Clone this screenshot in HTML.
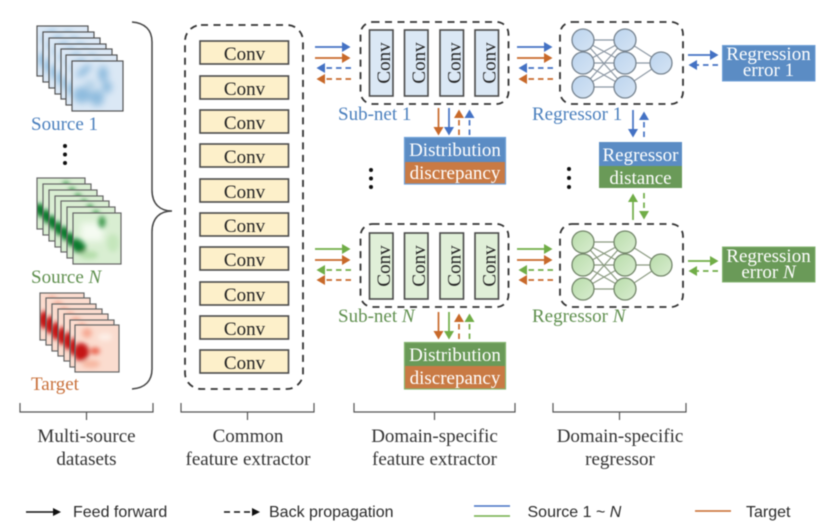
<!DOCTYPE html>
<html>
<head>
<meta charset="utf-8">
<style>
html,body{margin:0;padding:0;background:#fff;width:832px;height:526px;overflow:hidden}
svg{display:block;filter:blur(0.4px)}
text{font-family:"Liberation Serif",serif;font-size:19px;fill:#333}
.s{font-family:"Liberation Sans",sans-serif;font-size:16px;fill:#2a2a2a}
.w{fill:#fff;text-anchor:middle}
.m{text-anchor:middle}
.c{fill:#222;text-anchor:middle}
.dash{fill:none;stroke:#333;stroke-width:1.8;stroke-dasharray:7 5.5}
.f{stroke:#4a4a4a;stroke-width:1.6}
.sb{stroke:#4472c4;stroke-width:1.7;fill:none}
.so{stroke:#c8692a;stroke-width:1.7;fill:none}
.sg{stroke:#70ad47;stroke-width:1.7;fill:none}
.db{stroke-dasharray:5.5 4}
</style>
</head>
<body>
<svg width="832" height="526" viewBox="0 0 832 526" xmlns="http://www.w3.org/2000/svg">
<defs>
<marker id="mb" markerUnits="userSpaceOnUse" markerWidth="9" markerHeight="10" refX="0" refY="5" orient="auto"><path d="M0 0L8.5 5L0 10Z" fill="#4472c4"/></marker>
<marker id="mo" markerUnits="userSpaceOnUse" markerWidth="9" markerHeight="10" refX="0" refY="5" orient="auto"><path d="M0 0L8.5 5L0 10Z" fill="#c8692a"/></marker>
<marker id="mg" markerUnits="userSpaceOnUse" markerWidth="9" markerHeight="10" refX="0" refY="5" orient="auto"><path d="M0 0L8.5 5L0 10Z" fill="#70ad47"/></marker>
<marker id="mk" markerUnits="userSpaceOnUse" markerWidth="9" markerHeight="10" refX="0" refY="4" orient="auto"><path d="M0 0L8 4L0 8Z" fill="#111"/></marker>
<filter id="b3" x="-50%" y="-50%" width="200%" height="200%"><feGaussianBlur stdDeviation="3.500"/></filter>
<filter id="b2" x="-50%" y="-50%" width="200%" height="200%"><feGaussianBlur stdDeviation="2.500"/></filter>
<clipPath id="c1"><rect width="51" height="50"/></clipPath>
<clipPath id="c2"><rect width="48" height="51"/></clipPath>
<clipPath id="c3"><rect width="44" height="47"/></clipPath>
<linearGradient id="gb" x1="0" y1="0" x2="1" y2="1"><stop offset="0" stop-color="#bcd4ee"/><stop offset="1" stop-color="#d5e4f4"/></linearGradient>
<linearGradient id="gg" x1="0" y1="0" x2="1" y2="1"><stop offset="0" stop-color="#b8dcaa"/><stop offset="1" stop-color="#d9edd0"/></linearGradient>
<g id="h1">
<g clip-path="url(#c1)">
<rect width="51" height="50" fill="#dbe8f5"/>
<g filter="url(#b3)" fill="#8fbcde">
<ellipse cx="10" cy="34" rx="9" ry="8"/><ellipse cx="25" cy="37" rx="7" ry="8"/><ellipse cx="31" cy="13" rx="5" ry="8"/><ellipse cx="12" cy="10" rx="9" ry="3.500" transform="rotate(-40 12 10)"/><ellipse cx="35" cy="26" rx="5" ry="6"/><ellipse cx="18" cy="24" rx="6" ry="5" fill="#b5d2e8"/>
</g>
</g>
<rect width="51" height="50" fill="none" stroke="#555" stroke-width="1.2"/>
</g>
<g id="h2">
<g clip-path="url(#c2)">
<rect width="48" height="51" fill="#d9eed2"/>
<rect x="8" y="10" width="22" height="18" fill="#f5fbf2" filter="url(#b3)"/>
<g filter="url(#b2)">
<ellipse cx="29" cy="9" rx="3.500" ry="6" fill="#3f9a50"/>
<ellipse cx="5" cy="33" rx="9" ry="6" fill="#0f7a2e" transform="rotate(40 5 33)"/>
<ellipse cx="16" cy="42" rx="9" ry="4" fill="#b5deab"/>
<ellipse cx="40" cy="30" rx="6" ry="9" fill="#c5e6bc"/>
</g>
</g>
<rect width="48" height="51" fill="none" stroke="#666" stroke-width="1.2"/>
</g>
<g id="h3">
<g clip-path="url(#c3)">
<rect width="44" height="47" fill="#fbdccf"/>
<g filter="url(#b2)">
<ellipse cx="6" cy="27" rx="8" ry="9" fill="#c41818"/>
<ellipse cx="20" cy="26" rx="5" ry="3.500" fill="#ea6450"/>
<ellipse cx="12" cy="8" rx="5" ry="5" fill="#f6ab95"/>
<ellipse cx="30" cy="12" rx="7" ry="4" fill="#fdeee6"/>
<ellipse cx="16" cy="39" rx="9" ry="4" fill="#f7b8a2"/>
</g>
</g>
<rect width="44" height="47" fill="none" stroke="#666" stroke-width="1.2"/>
</g>
<g id="nb">
<g stroke="#8c97a3" stroke-width="1.2" fill="none">
<path d="M583 40L625 40M583 40L625 63M583 40L625 87M583 63L625 40M583 63L625 63M583 63L625 87M583 87L625 40M583 87L625 63M583 87L625 87M625 40L661 63M625 63L661 63M625 87L661 63"/>
</g>
<g fill="url(#gb)" stroke="#76838f" stroke-width="1.3">
<circle cx="583" cy="40" r="11"/><circle cx="583" cy="63" r="11"/><circle cx="583" cy="87" r="11"/>
<circle cx="625" cy="40" r="11"/><circle cx="625" cy="63" r="11"/><circle cx="625" cy="87" r="11"/>
<circle cx="661" cy="63" r="11"/>
</g>
</g>
<g id="ng">
<g stroke="#8a9a80" stroke-width="1.2" fill="none">
<path d="M583 40L625 40M583 40L625 63M583 40L625 87M583 63L625 40M583 63L625 63M583 63L625 87M583 87L625 40M583 87L625 63M583 87L625 87M625 40L661 63M625 63L661 63M625 87L661 63"/>
</g>
<g fill="url(#gg)" stroke="#73866a" stroke-width="1.3">
<circle cx="583" cy="40" r="11"/><circle cx="583" cy="63" r="11"/><circle cx="583" cy="87" r="11"/>
<circle cx="625" cy="40" r="11"/><circle cx="625" cy="63" r="11"/><circle cx="625" cy="87" r="11"/>
<circle cx="661" cy="63" r="11"/>
</g>
</g>
</defs>

<!-- Source 1 stack -->
<use href="#h1" x="37" y="26"/><use href="#h1" x="43" y="32"/><use href="#h1" x="49" y="38"/><use href="#h1" x="55" y="44"/><use href="#h1" x="61" y="49"/><use href="#h1" x="66" y="55"/><use href="#h1" x="72" y="61"/>
<text x="31" y="130" style="fill:#4a7fbd">Source 1</text>
<circle cx="65" cy="146" r="2" fill="#111"/><circle cx="65" cy="154.500" r="2" fill="#111"/><circle cx="65" cy="163" r="2" fill="#111"/>

<!-- Source N stack -->
<use href="#h2" x="37" y="178"/><use href="#h2" x="43" y="184"/><use href="#h2" x="49" y="190"/><use href="#h2" x="55" y="196"/><use href="#h2" x="61" y="201"/><use href="#h2" x="67" y="207"/><use href="#h2" x="73" y="213"/>
<text x="31" y="283" style="fill:#5f8f4e">Source <tspan font-style="italic">N</tspan></text>

<!-- Target stack -->
<use href="#h3" x="40" y="293"/><use href="#h3" x="46" y="298"/><use href="#h3" x="52" y="304"/><use href="#h3" x="58" y="309"/><use href="#h3" x="64" y="314"/><use href="#h3" x="70" y="320"/><use href="#h3" x="75" y="325"/>
<text x="31" y="390" style="fill:#c8703a">Target</text>

<!-- Brace -->
<path d="M132 22C145 23 152 30 152 42L152 190C152 204 160 211 172 211C160 211 152 218 152 232L152 369C152 381 145 388 132 389" fill="none" stroke="#444" stroke-width="1.5"/>

<!-- Common feature extractor -->
<rect x="185" y="25" width="118" height="364" rx="16" class="dash"/>
<g fill="#fdf0ca" class="f">
<rect x="200" y="41" width="88.500" height="23"/><rect x="200" y="76" width="88.500" height="23"/><rect x="200" y="110" width="88.500" height="23"/><rect x="200" y="144" width="88.500" height="23"/><rect x="200" y="179" width="88.500" height="23"/><rect x="200" y="213" width="88.500" height="23"/><rect x="200" y="247" width="88.500" height="23"/><rect x="200" y="282" width="88.500" height="23"/><rect x="200" y="316" width="88.500" height="23"/><rect x="200" y="350" width="88.500" height="23"/>
</g>
<g class="c">
<text class="c" x="244.500" y="60">Conv</text><text class="c" x="244.500" y="95">Conv</text><text class="c" x="244.500" y="129">Conv</text><text class="c" x="244.500" y="163">Conv</text><text class="c" x="244.500" y="198">Conv</text><text class="c" x="244.500" y="232">Conv</text><text class="c" x="244.500" y="266">Conv</text><text class="c" x="244.500" y="301">Conv</text><text class="c" x="244.500" y="335">Conv</text><text class="c" x="244.500" y="369">Conv</text>
</g>

<!-- Sub-net 1 -->
<rect x="360.500" y="22" width="148" height="82" rx="12" class="dash"/>
<g fill="#dbe8f5" class="f">
<rect x="369.500" y="30" width="23.500" height="66"/><rect x="404.500" y="30" width="23.500" height="66"/><rect x="440" y="30" width="23.500" height="66"/><rect x="475" y="30" width="23.500" height="66"/>
</g>
<text class="c" transform="translate(390 63) rotate(-90)">Conv</text>
<text class="c" transform="translate(425 63) rotate(-90)">Conv</text>
<text class="c" transform="translate(460.500 63) rotate(-90)">Conv</text>
<text class="c" transform="translate(495.500 63) rotate(-90)">Conv</text>
<text x="338" y="120" style="fill:#4a7fbd">Sub-net 1</text>

<!-- Sub-net N -->
<rect x="360.500" y="224" width="148" height="83" rx="12" class="dash"/>
<g fill="#e0efd8" class="f">
<rect x="369.500" y="233" width="23.500" height="66"/><rect x="404.500" y="233" width="23.500" height="66"/><rect x="440" y="233" width="23.500" height="66"/><rect x="475" y="233" width="23.500" height="66"/>
</g>
<text class="c" transform="translate(390 266) rotate(-90)">Conv</text>
<text class="c" transform="translate(425 266) rotate(-90)">Conv</text>
<text class="c" transform="translate(460.500 266) rotate(-90)">Conv</text>
<text class="c" transform="translate(495.500 266) rotate(-90)">Conv</text>
<text x="338" y="322" style="fill:#5f8f4e">Sub-net <tspan font-style="italic">N</tspan></text>

<!-- Horizontal arrows top -->
<path class="sb" d="M315 47H342" marker-end="url(#mb)"/>
<path class="so" d="M315 58H342" marker-end="url(#mo)"/>
<path class="sb db" d="M351 68H325" marker-end="url(#mb)"/>
<path class="so db" d="M351 79H325" marker-end="url(#mo)"/>
<path class="sb" d="M517 47H544" marker-end="url(#mb)"/>
<path class="so" d="M517 58H544" marker-end="url(#mo)"/>
<path class="sb db" d="M553 68H527" marker-end="url(#mb)"/>
<path class="so db" d="M553 79H527" marker-end="url(#mo)"/>

<!-- Horizontal arrows bottom -->
<path class="sg" d="M315 249H342" marker-end="url(#mg)"/>
<path class="so" d="M315 260H342" marker-end="url(#mo)"/>
<path class="sg db" d="M351 270H325" marker-end="url(#mg)"/>
<path class="so db" d="M351 280H325" marker-end="url(#mo)"/>
<path class="sg" d="M517 249H544" marker-end="url(#mg)"/>
<path class="so" d="M517 260H544" marker-end="url(#mo)"/>
<path class="sg db" d="M553 270H527" marker-end="url(#mg)"/>
<path class="so db" d="M553 280H527" marker-end="url(#mo)"/>

<!-- Vertical arrows: sub-net 1 -->
<path class="so" d="M438.500 108V127" marker-end="url(#mo)"/>
<path class="sb" d="M449 108V127" marker-end="url(#mb)"/>
<path class="so db" d="M459 135V118" marker-end="url(#mo)"/>
<path class="sb db" d="M469.500 135V118" marker-end="url(#mb)"/>

<!-- Vertical arrows: sub-net N -->
<path class="so" d="M438.500 312V331" marker-end="url(#mo)"/>
<path class="sg" d="M449 312V331" marker-end="url(#mg)"/>
<path class="so db" d="M459 339V322" marker-end="url(#mo)"/>
<path class="sg db" d="M469.500 339V322" marker-end="url(#mg)"/>

<!-- Distribution boxes -->
<rect x="404.500" y="137.500" width="101" height="24.500" fill="#5b8cc4"/>
<rect x="404.500" y="162" width="101" height="22" fill="#c97a44"/>
<rect x="404.500" y="137.500" width="101" height="46.500" fill="none" stroke="#6fa0d8" stroke-width="1.2"/>
<text class="w" x="455" y="156">Distribution</text>
<text class="w" x="455" y="179">discrepancy</text>

<rect x="404.500" y="342.500" width="101" height="24" fill="#6a9a58"/>
<rect x="404.500" y="366" width="101" height="23" fill="#c97a44"/>
<rect x="404.500" y="342.500" width="101" height="46.500" fill="none" stroke="#85b570" stroke-width="1.2"/>
<text class="w" x="455" y="361">Distribution</text>
<text class="w" x="455" y="384">discrepancy</text>

<!-- dots -->
<g fill="#111"><circle cx="371" cy="170" r="2"/><circle cx="371" cy="178.500" r="2"/><circle cx="371" cy="187" r="2"/><circle cx="569" cy="169" r="2"/><circle cx="569" cy="178" r="2"/><circle cx="569" cy="187" r="2"/></g>

<!-- Regressor 1 -->
<rect x="560" y="22" width="123" height="82" rx="12" class="dash"/>
<use href="#nb"/>
<text x="532" y="120" style="fill:#4a7fbd">Regressor 1</text>

<!-- Regressor N -->
<rect x="560" y="224" width="123" height="83" rx="12" class="dash"/>
<use href="#ng" y="202"/>
<text x="532" y="322" style="fill:#5f8f4e">Regressor <tspan font-style="italic">N</tspan></text>

<!-- Error boxes -->
<path class="sb" d="M688 55H710" marker-end="url(#mb)"/>
<path class="sb db" d="M718 65H697" marker-end="url(#mb)"/>
<rect x="722.500" y="45.500" width="92.500" height="35.500" fill="#5b8cc4" stroke="#6fa0d8"/>
<text class="w" x="768.500" y="60">Regression</text>
<text class="w" x="768.500" y="76">error 1</text>

<path class="sg" d="M688 261H710" marker-end="url(#mg)"/>
<path class="sg db" d="M718 271H697" marker-end="url(#mg)"/>
<rect x="722.500" y="247" width="92.500" height="35" fill="#6a9a58" stroke="#85b570"/>
<text class="w" x="768.500" y="262">Regression</text>
<text class="w" x="768.500" y="278">error <tspan font-style="italic">N</tspan></text>

<!-- Regressor distance -->
<path class="sb" d="M633 110V129" marker-end="url(#mb)"/>
<path class="sb db" d="M644 137V120" marker-end="url(#mb)"/>
<rect x="599" y="142" width="83" height="24" fill="#5b8cc4"/>
<rect x="599" y="166" width="83" height="22" fill="#6a9a58"/>
<text class="w" x="640.500" y="161">Regressor</text>
<text class="w" x="640.500" y="184">distance</text>
<path class="sg" d="M633 220V202" marker-end="url(#mg)"/>
<path class="sg db" d="M644 193V211" marker-end="url(#mg)"/>

<!-- Brackets -->
<g fill="none" stroke="#555" stroke-width="1.2">
<path d="M20 403V412H153V403M86.500 412V420"/>
<path d="M181 403V412H314V403M247.500 412V420"/>
<path d="M354 403V412H515V403M434.500 412V420"/>
<path d="M553 403V412H686V403M619.500 412V420"/>
</g>
<text class="m" x="86.500" y="442">Multi-source</text>
<text class="m" x="86.500" y="465">datasets</text>
<text class="m" x="248" y="442">Common</text>
<text class="m" x="248" y="465">feature extractor</text>
<text class="m" x="434.500" y="442">Domain-specific</text>
<text class="m" x="434.500" y="465">feature extractor</text>
<text class="m" x="620" y="442">Domain-specific</text>
<text class="m" x="620" y="465">regressor</text>

<!-- Legend -->
<path d="M26 512H53" stroke="#111" stroke-width="1.5" marker-end="url(#mk)"/>
<text class="s" x="73" y="517">Feed forward</text>
<path d="M224 512H252" stroke="#111" stroke-width="1.5" stroke-dasharray="6 4" marker-end="url(#mk)"/>
<text class="s" x="269" y="517">Back propagation</text>
<path d="M474 506H510" stroke="#4472c4" stroke-width="1.5"/>
<path d="M474 516H510" stroke="#70ad47" stroke-width="1.5"/>
<text class="s" x="527.500" y="517">Source 1 ~ <tspan font-style="italic">N</tspan></text>
<path d="M695 511H731" stroke="#c8692a" stroke-width="1.5"/>
<text class="s" x="746" y="517">Target</text>
</svg>
</body>
</html>
